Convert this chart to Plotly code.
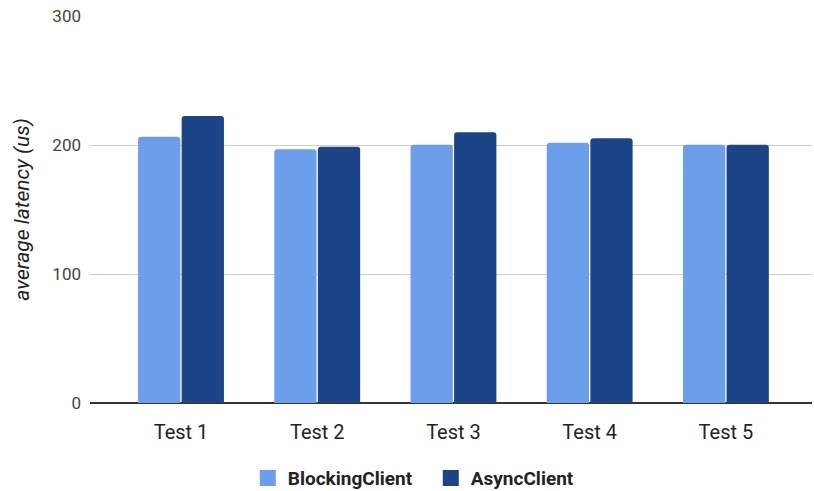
import plotly.graph_objects as go

categories = ["Test 1", "Test 2", "Test 3", "Test 4", "Test 5"]
blocking = [206.4, 196.7, 200.2, 201.8, 200.2]
async_vals = [222.5, 198.7, 209.8, 205.2, 200.2]
y_ticks = [0, 100, 200, 300]
series_names = ["BlockingClient", "AsyncClient"]
series_colors = ["#6d9eeb", "#1c4587"]

fig = go.Figure()
for name, vals, col in zip(series_names, [blocking, async_vals], series_colors):
    fig.add_trace(go.Bar(name=name, x=categories, y=vals, showlegend=False,
                         marker=dict(color=col, cornerradius=3, line=dict(width=0))))
# legend entries with larger square swatches
for name, col in zip(series_names, series_colors):
    fig.add_trace(go.Scatter(name=name, x=[None], y=[None], mode="markers",
                             marker=dict(symbol="square", size=20, color=col),
                             showlegend=True))

fig.update_layout(
    width=814, height=491,
    margin=dict(l=90, r=2, t=16, b=88, autoexpand=False),
    paper_bgcolor="white", plot_bgcolor="white",
    barmode="group", bargap=0.36, bargroupgap=0.03,
    font=dict(family="Roboto", color="#222"),
    showlegend=True,
    legend=dict(orientation="h", x=0.472, xanchor="center", y=-0.194, yanchor="middle",
                font=dict(size=19, color="#222", family="Roboto", weight="bold"),
                itemwidth=30, traceorder="normal", itemsizing="trace",
                entrywidth=138, entrywidthmode="pixels"),
    xaxis=dict(range=[-0.668, 4.632], showgrid=False, showline=False, automargin=False,
               ticks="outside", ticklen=11, tickcolor="rgba(0,0,0,0)",
               tickfont=dict(size=20, color="#222")),
    yaxis=dict(range=[0, 300], tickvals=y_ticks, showgrid=True, gridcolor="#cccccc",
               gridwidth=1, zeroline=True, zerolinecolor="#333333", zerolinewidth=1.5,
               showline=False, ticks="", tickfont=dict(size=17, color="#444"),
               ticklabelstandoff=8, automargin=False,
               title=dict(text="<i>average latency (us)</i>", standoff=16,
                          font=dict(size=21, color="#222"))),
)

fig.write_html("out.html")
